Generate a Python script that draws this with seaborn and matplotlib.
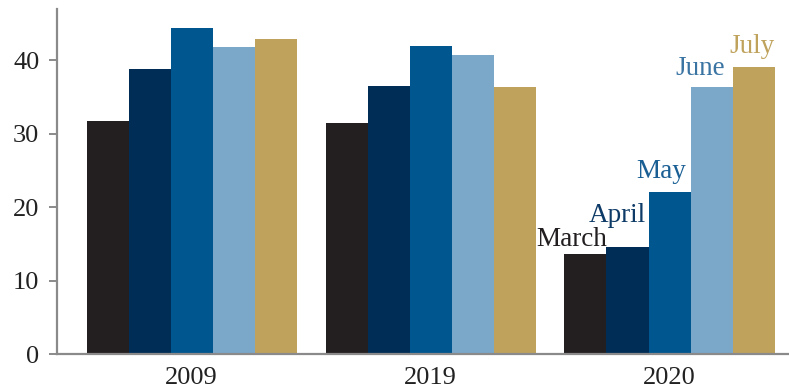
import matplotlib
matplotlib.use("Agg")
import matplotlib.pyplot as plt
import seaborn as sns
import pandas as pd

years = ["2009", "2019", "2020"]
months = ["March", "April", "May", "June", "July"]
march = [31.7, 31.5, 13.6]
april = [38.8, 36.5, 14.6]
may = [44.3, 41.9, 22.0]
june = [41.8, 40.7, 36.3]
july = [42.8, 36.4, 39.1]
yticks = [0, 10, 20, 30, 40]

bar_colors = ["#231f20", "#002d56", "#00568f", "#7ba7c9", "#bfa25c"]
label_colors = ["#231f20", "#0d3a66", "#1a5f94", "#3a74a3", "#bfa25c"]
# label offsets in pixels (dx from bar right edge, dy above bar top)
label_dx = [1, -3, -4, -8, 0]
label_dy = [8, 25, 14, 12, 14]

rows = []
for m, vals in zip(months, [march, april, may, june, july]):
    for y, v in zip(years, vals):
        rows.append({"year": y, "month": m, "value": v})
df = pd.DataFrame(rows)

sns.set_style("white")
plt.rcParams["font.family"] = ["Liberation Serif", "DejaVu Serif"]

fig = plt.figure(figsize=(7.89, 3.91), dpi=100)
ax = fig.add_axes([0.0725, 0.094, 0.9275, 0.884])

sns.barplot(data=df, x="year", y="value", hue="month", order=years,
            hue_order=months, palette=bar_colors, width=0.88,
            saturation=1, linewidth=0, legend=False, ax=ax)

ax.set_xlim(-0.563, 2.50)
ax.set_ylim(0, 47.0)
ax.set_yticks(yticks)
ax.set_xlabel("")
ax.set_ylabel("")

for s in ["top", "right"]:
    ax.spines[s].set_visible(False)
for s in ["left", "bottom"]:
    ax.spines[s].set_color("#8a8a8a")
    ax.spines[s].set_linewidth(1.6)

ax.tick_params(axis="y", length=5.8, width=1.4, color="#8a8a8a",
               labelsize=19, labelcolor="#222222", pad=7, left=True)
ax.tick_params(axis="x", length=0, labelsize=19, labelcolor="#222222", pad=9)

# labels for 2020 bars
n = len(months)
w = 0.88 / n
for i, (m, vals) in enumerate(zip(months, [march, april, may, june, july])):
    xr = 2 - 0.44 + w * (i + 1)
    v = vals[2]
    ax.annotate(m, xy=(xr, v), xytext=(label_dx[i] * 0.72, label_dy[i] * 0.72),
                textcoords="offset points", ha="right", va="baseline",
                fontsize=19.5, color=label_colors[i])

fig.savefig("out.png", dpi=100)
